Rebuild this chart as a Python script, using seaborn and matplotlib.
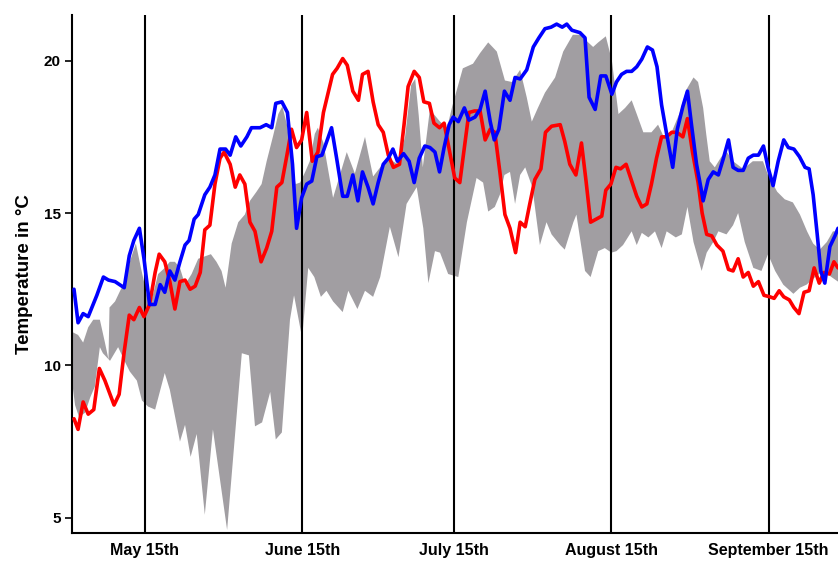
import matplotlib
matplotlib.use("Agg")
import matplotlib.pyplot as plt
import seaborn as sns
import numpy as np

# === DATA (days counted from May 1st, temperature in °C) ===
blue_day = [0, 0.8, 1.8, 2.8, 4.5, 5.8, 6.8, 8.1, 9.9, 10.9, 11.8, 12.9, 13.8, 14.9, 16.0,
            17.0, 17.9, 18.9, 19.9, 20.9, 21.9, 22.7, 23.7, 24.5, 25.8, 26.8, 27.8, 28.8,
            29.9, 30.8, 31.9, 32.9, 34.1, 35.0, 36.7, 37.9, 39.0, 39.8, 41.0, 42.1, 43.1,
            43.9, 44.9, 45.9, 46.9, 47.9, 48.9, 50.8, 51.8, 53.0, 53.9, 55.0, 56.0, 56.9,
            58.0, 59.0, 60.0, 61.0, 62.0, 62.9, 63.8, 65.0, 66.1, 67.1, 68.1, 69.2, 70.2,
            71.2, 72.1, 73.0, 74.0, 74.8, 75.8, 77.0, 77.9, 79.1, 80.1, 81.1, 82.1, 82.9,
            83.8, 84.9, 86.0, 87.0, 88.0, 89.3, 90.6, 91.7, 92.9, 94.1, 95.2, 96.3, 97.2,
            98.2, 99.8, 100.8, 101.6, 102.8, 103.9, 104.9, 106.1, 107.0, 108.0, 109.0,
            110.0, 111.0, 112.0, 113.1, 114.1, 115.0, 115.9, 117.0, 118.1, 119.0, 120.1,
            121.0, 121.8, 122.8, 123.8, 124.1, 125.1, 126.1, 127.1, 128.1, 129.1, 130.0,
            131.0, 132.0, 133.0, 134.0, 135.0, 136.0, 136.9, 137.9, 138.9, 140.0, 140.9,
            142.0, 143.1, 144.2, 145.0, 145.8, 146.6, 147.3, 148.1, 149.1, 150.1, 150.7]
blue_temp = [12.5, 11.4, 11.7, 11.6, 12.3, 12.9, 12.8, 12.75, 12.55, 13.6, 14.1, 14.5, 13.5,
             12.0, 12.0, 12.65, 12.4, 13.1, 12.8, 13.4, 13.95, 14.1, 14.8, 14.95, 15.6,
             15.85, 16.25, 17.1, 17.1, 16.9, 17.5, 17.2, 17.5, 17.8, 17.8, 17.9, 17.8, 18.6,
             18.65, 18.3, 16.6, 14.5, 15.5, 15.95, 16.05, 16.85, 16.9, 17.8, 16.8, 15.55,
             15.55, 16.25, 15.4, 16.35, 15.85, 15.3, 16.0, 16.6, 16.8, 17.1, 16.7, 16.95,
             16.7, 16.0, 16.8, 17.2, 17.15, 17.0, 16.35, 17.15, 17.9, 18.15, 18.0, 18.45,
             18.05, 18.15, 18.4, 19.0, 18.0, 17.4, 17.75, 19.0, 18.7, 19.45, 19.4, 19.7,
             20.45, 20.75, 21.05, 21.1, 21.2, 21.1, 21.2, 21.0, 20.92, 20.75, 18.8, 18.4,
             19.5, 19.5, 18.9, 19.3, 19.55, 19.65, 19.65, 19.8, 20.05, 20.45, 20.35, 19.8,
             18.55, 17.5, 16.5, 17.75, 18.5, 19.0, 17.9, 16.6, 15.7, 15.4, 16.1, 16.35,
             16.25, 16.8, 17.4, 16.5, 16.4, 16.4, 16.8, 16.9, 16.9, 17.2, 16.5, 15.9, 16.7,
             17.4, 17.15, 17.1, 16.85, 16.5, 16.45, 15.6, 14.3, 13.1, 12.7, 13.9, 14.25, 14.5]

red_day = [0, 0.8, 1.8, 2.8, 3.9, 5.0, 6.1, 7.0, 7.9, 8.9, 9.9, 10.9, 11.8, 12.9, 13.8, 14.9,
           16.0, 16.8, 17.9, 18.9, 19.9, 20.9, 21.9, 22.9, 23.9, 24.9, 25.8, 26.8, 27.8,
           28.8, 29.6, 30.8, 31.8, 32.7, 33.7, 34.7, 35.7, 36.9, 38.0, 39.0, 40.0, 41.0,
           42.0, 42.9, 43.9, 44.9, 45.9, 47.0, 48.1, 49.2, 51.0, 51.9, 53.0, 53.9, 55.0,
           56.1, 56.9, 58.0, 59.0, 60.0, 61.0, 62.0, 63.0, 64.2, 65.1, 65.9, 67.1, 68.1,
           69.0, 70.1, 71.0, 72.1, 73.0, 74.0, 75.1, 76.1, 77.0, 77.9, 79.0, 80.1, 81.1,
           82.1, 83.0, 84.0, 85.0, 86.0, 87.1, 88.0, 89.0, 89.9, 90.9, 92.1, 93.0, 94.2,
           95.9, 96.8, 97.8, 99.0, 100.1, 101.0, 101.9, 103.0, 104.1, 104.9, 105.9, 106.9,
           107.8, 108.9, 110.0, 111.0, 112.0, 113.0, 113.9, 114.9, 115.9, 116.9, 117.9,
           118.9, 120.1, 121.0, 122.0, 123.1, 123.9, 124.8, 125.8, 126.8, 128.0, 129.1,
           130.0, 131.0, 132.0, 133.0, 134.0, 135.0, 136.1, 137.3, 138.1, 139.1, 140.0,
           141.1, 142.0, 143.0, 144.0, 145.0, 146.0, 147.0, 147.9, 149.0, 149.9, 150.7]
red_temp = [8.25, 7.9, 8.8, 8.4, 8.55, 9.9, 9.5, 9.1, 8.7, 9.05, 10.45, 11.65, 11.5, 11.9,
            11.6, 12.0, 13.05, 13.65, 13.4, 12.75, 11.85, 12.75, 12.8, 12.5, 12.6, 13.05,
            14.45, 14.6, 15.95, 16.8, 17.0, 16.6, 15.85, 16.25, 15.95, 14.7, 14.4, 13.4,
            13.85, 14.4, 15.85, 16.0, 16.9, 17.75, 17.15, 17.4, 18.3, 16.7, 17.0, 18.3,
            19.55, 19.75, 20.07, 19.85, 19.0, 18.7, 19.55, 19.65, 18.65, 17.9, 17.65, 16.9,
            16.5, 16.6, 17.9, 19.15, 19.65, 19.45, 18.65, 18.6, 17.95, 17.8, 17.95, 17.1,
            16.15, 16.0, 17.15, 18.3, 18.35, 18.35, 17.4, 17.75, 17.65, 16.35, 14.95, 14.5,
            13.7, 14.7, 14.55, 15.3, 16.1, 16.45, 17.65, 17.85, 17.9, 17.35, 16.6, 16.25,
            17.3, 16.05, 14.7, 14.8, 14.9, 15.75, 15.95, 16.5, 16.45, 16.6, 16.05, 15.55,
            15.2, 15.3, 15.95, 16.8, 17.5, 17.5, 17.65, 17.65, 17.5, 18.1, 17.0, 16.0, 15.0,
            14.3, 14.25, 13.95, 13.75, 13.15, 13.1, 13.5, 12.9, 13.05, 12.6, 12.75, 12.3,
            12.25, 12.2, 12.45, 12.25, 12.15, 11.9, 11.7, 12.4, 12.45, 13.2, 12.7, 13.05,
            13.0, 13.4, 13.2]

band_upper_day = [-0.4, 0.8, 1.8, 2.8, 3.8, 5.1, 6.1, 6.8, 7.0, 8.1, 9.1, 10.1, 11.0, 12.2,
                  13.2, 14.4, 15.0, 16.6, 17.9, 18.9, 19.9, 20.9, 21.9, 23.2, 24.5, 27.0,
                  28.1, 29.1, 29.9, 31.1, 32.4, 33.7, 34.7, 36.0, 37.0, 38.0, 39.3, 40.3,
                  41.1, 42.0, 42.9, 43.7, 44.6, 45.6, 46.5, 47.5, 48.1, 49.2, 51.1, 53.8,
                  55.4, 57.4, 58.0, 59.0, 60.4, 61.9, 63.9, 65.3, 66.5, 67.3, 68.0, 68.8,
                  70.2, 72.2, 73.6, 74.6, 76.7, 78.7, 80.1, 81.7, 83.4, 85.0, 86.4, 88.0,
                  89.3, 90.3, 91.5, 92.9, 94.9, 96.5, 98.4, 99.8, 102.4, 103.4, 104.9, 106.1,
                  107.4, 108.7, 110.0, 111.0, 112.3, 113.9, 115.2, 116.2, 117.5, 119.5,
                  120.8, 122.2, 123.1, 124.1, 124.7, 125.4, 126.4, 127.7, 128.8, 130.0,
                  132.0, 133.9, 135.9, 136.9, 138.7, 140.2, 141.8, 143.2, 144.6, 145.8,
                  147.1, 148.5, 149.7, 150.7]
band_upper_temp = [11.1, 11.0, 10.75, 11.25, 11.5, 11.5, 10.75, 10.2, 11.9, 12.1, 12.45,
                   12.75, 13.4, 14.0, 13.2, 12.3, 11.95, 13.0, 13.2, 13.4, 13.4, 13.2, 12.65,
                   13.0, 13.5, 13.65, 13.4, 13.1, 12.55, 14.0, 14.7, 14.95, 15.4, 15.7, 15.95,
                   16.7, 17.55, 18.25, 18.5, 17.9, 16.8, 15.95, 16.0, 16.35, 16.7, 17.6, 17.8,
                   17.3, 15.5, 17.0, 16.3, 17.5, 17.0, 16.2, 16.5, 16.8, 16.6, 17.5, 19.2,
                   19.4, 18.2, 16.5, 18.4, 18.0, 17.8, 18.5, 19.75, 19.9, 20.25, 20.6, 20.3,
                   19.35, 19.3, 19.7, 18.8, 18.0, 18.45, 18.95, 19.45, 20.3, 20.85, 20.85,
                   20.45, 20.6, 20.8, 20.0, 18.25, 18.45, 18.7, 18.25, 17.65, 17.65, 17.9,
                   17.55, 17.5, 18.3, 19.05, 19.45, 19.3, 18.45, 17.6, 16.7, 16.5, 16.85, 17.0,
                   16.7, 16.45, 16.7, 16.7, 16.25, 15.7, 15.45, 15.35, 14.95, 14.4, 14.0,
                   13.8, 14.05, 14.4, 14.4]

band_lower_day = [-0.4, 0.2, 1.0, 2.2, 3.2, 4.1, 5.1, 5.7, 7.1, 8.7, 10.1, 11.0, 12.4, 13.4,
                  14.6, 16.0, 17.9, 18.9, 20.9, 21.9, 23.0, 24.2, 25.8, 27.4, 30.2, 33.1,
                  34.5, 35.7, 37.1, 38.7, 39.8, 41.0, 42.6, 43.4, 45.0, 46.2, 47.4, 48.7,
                  49.8, 51.1, 53.0, 54.1, 55.9, 57.4, 59.0, 60.4, 62.3, 64.0, 65.6, 67.6,
                  68.9, 69.9, 71.2, 72.2, 73.8, 75.8, 77.5, 79.4, 80.7, 81.7, 83.0, 84.0,
                  84.9, 86.0, 87.0, 88.0, 89.0, 90.4, 91.9, 93.2, 94.2, 95.9, 96.8, 98.5,
                  99.1, 100.8, 101.9, 103.4, 104.7, 106.0, 107.0, 108.3, 110.0, 111.0, 112.0,
                  113.3, 114.6, 115.9, 116.9, 118.7, 119.9, 121.0, 122.2, 123.8, 124.8,
                  126.1, 127.1, 128.7, 130.0, 131.0, 132.3, 134.0, 135.6, 136.9, 138.3,
                  139.9, 141.9, 143.2, 144.5, 146.2, 147.8, 149.4, 150.7]
band_lower_temp = [9.5, 8.7, 8.3, 8.45, 8.95, 9.3, 10.6, 10.4, 10.15, 10.6, 10.1, 9.8, 9.5,
                   8.85, 8.65, 8.55, 9.75, 9.2, 7.5, 8.05, 7.0, 7.75, 5.1, 7.9, 4.6, 10.4,
                   10.33, 8.0, 8.13, 9.13, 7.57, 7.8, 11.5, 12.3, 10.9, 13.2, 12.9, 12.25,
                   12.45, 12.1, 11.75, 12.45, 11.85, 12.45, 12.25, 12.9, 14.55, 13.55, 15.3,
                   15.85, 14.5, 12.7, 13.75, 13.7, 13.0, 12.9, 14.7, 16.15, 16.0, 15.05, 15.2,
                   15.6, 16.25, 16.35, 15.3, 16.25, 16.5, 15.85, 13.95, 14.7, 14.3, 13.95,
                   13.8, 14.7, 14.95, 13.1, 12.9, 13.75, 13.85, 13.7, 13.75, 13.95, 14.4,
                   13.95, 14.35, 14.2, 14.4, 13.85, 14.4, 14.2, 14.3, 15.2, 14.05, 13.1, 13.7,
                   14.05, 14.4, 14.3, 14.6, 15.0, 14.05, 13.2, 13.1, 13.65, 13.1, 12.65, 12.35,
                   12.55, 12.65, 12.9, 13.1, 12.9, 12.75]

month_days = [14, 45, 75, 106, 137]
month_labels = ["May 15th", "June 15th", "July 15th", "August 15th", "September 15th"]

# === STYLE ===
sns.set_theme(style="white", rc={"text.color": "black", "axes.labelcolor": "black",
                                 "xtick.color": "black", "ytick.color": "black"})
plt.rcParams["font.family"] = ["Liberation Sans", "DejaVu Sans"]

fig = plt.figure(figsize=(8.38, 5.61), dpi=100)
ax = fig.add_axes([0.0859, 0.0499, 0.9141, 0.9234])

# gray band (range of other years)
poly_x = np.concatenate([band_upper_day, band_lower_day[::-1]])
poly_y = np.concatenate([band_upper_temp, band_lower_temp[::-1]])
ax.fill(poly_x, poly_y, color="#a19ea2", lw=0, zorder=1)

for d in month_days:
    ax.axvline(d, color="black", lw=1.5, zorder=2)

sns.lineplot(x=red_day, y=red_temp, color="#ff0000", lw=2.6, ax=ax, zorder=3)
sns.lineplot(x=blue_day, y=blue_temp, color="#0000ff", lw=2.6, ax=ax, zorder=4)

ax.set_xlim(-0.4, 150.7)
ax.set_ylim(4.5, 21.5)
ax.set_xticks(month_days)
ax.set_xticklabels(month_labels, fontsize=11.5, fontweight="bold", color="black")
ax.set_yticks([5, 10, 15, 20])
ax.set_yticklabels(["5", "10", "15", "20"], fontsize=11, fontweight="bold", color="black")
ax.tick_params(axis="y", length=5, width=1.2, color="black", direction="out", left=True, pad=3)
ax.tick_params(axis="x", length=0, pad=7)
ax.set_ylabel("Temperature in °C", fontsize=13.5, fontweight="bold", labelpad=8, color="black")
ax.set_xlabel("")

sns.despine(ax=ax, top=True, right=True)
for side in ["left", "bottom"]:
    ax.spines[side].set_color("black")
    ax.spines[side].set_linewidth(1.5)

plt.savefig("out.png", dpi=100)
plt.close()
